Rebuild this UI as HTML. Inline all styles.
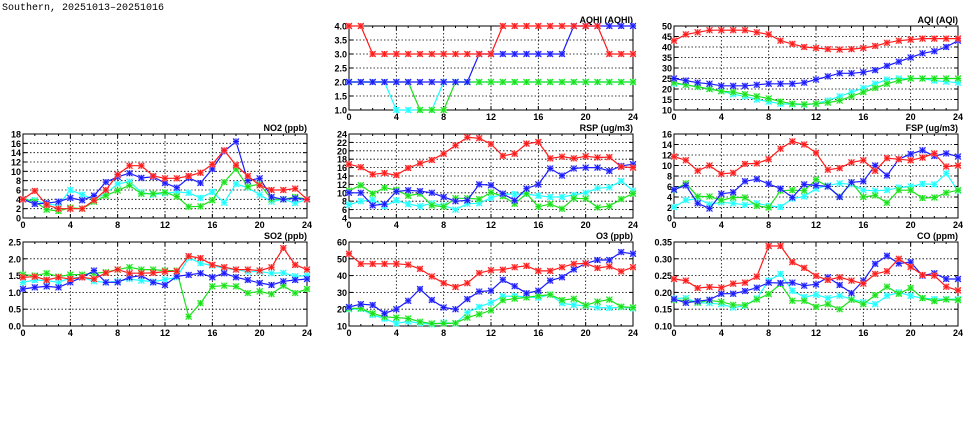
<!DOCTYPE html>
<html><head><meta charset="utf-8"><style>
html,body{margin:0;padding:0;background:#fff;width:975px;height:447px;overflow:hidden}
svg{display:block}
text{font-family:"Liberation Sans",sans-serif;font-weight:bold;font-size:9px;fill:#000}
</style></head><body>
<svg id="s" width="975" height="447" xmlns="http://www.w3.org/2000/svg">
<text x="2" y="10" style="font-family:'Liberation Mono',monospace;font-size:10px;font-weight:normal">Southern, 20251013–20251016</text>
</svg>
<script>
const S=document.getElementById('s');
const C={r:'#ff1a1a',b:'#1a1aff',g:'#1ae01a',c:'#1affff'};
const L={r:'#ff9999',b:'#9999ff',g:'#99ff99',c:'#aaffff'};
const P=[
{t:'AQHI (AQHI)',x:349,y:26,lo:1,hi:4,st:0.5,f:1,
 c:[2,2,2,2,1,1,1,1,2,2,2,2,2,2,2,2,2,2,2,2,2,2,2,2,2],
 g:[2,2,2,2,2,2,1,1,1,2,2,2,2,2,2,2,2,2,2,2,2,2,2,2,2],
 b:[2,2,2,2,2,2,2,2,2,2,2,3,3,3,3,3,3,3,3,4,4,4,4,4,4],
 r:[4,4,3,3,3,3,3,3,3,3,3,3,3,4,4,4,4,4,4,4,4,4,3,3,3]},
{t:'AQI (AQI)',x:674,y:26,lo:10,hi:50,st:5,f:0,
 r:[43,46,47,48,48,48,48,47,46,43,41.5,40,39.5,39,38.8,39,39.5,40.5,42,43,43.5,44,44,44,44],
 b:[25,24,23,22.5,21.5,21.5,21.5,22,22.5,22.5,22.5,23,24.5,26,27.5,27.5,28,29,31,33,35,37,38,40,43],
 g:[23,22,21,20,19,18.5,17.5,16.5,15.5,14,13,12.7,13,13.5,14.5,16.5,18.5,20.5,22.5,24,25,25,25,25,25],
 c:[22.5,22,21,20,19,17.5,16.5,15,14,13,12.7,12.5,13,14.5,16.5,18.5,20.5,22.5,24.5,25,25,25,24,23.5,23]},
{t:'NO2 (ppb)',x:23,y:134,lo:0,hi:18,st:2,f:0,
 r:[4,5.8,2.8,2,2,2,3.8,6,9.3,11.2,11.2,9,8.5,8.5,9,9.7,11.5,14.5,11.3,9,7,6,6,6.3,4],
 b:[4,3,3.2,3.5,4.3,3.8,4.8,7.7,8.8,9.6,8.6,8.8,7.5,6.5,8.6,7.5,10.5,14.3,16.4,8,8.5,4.5,4,4.2,4],
 g:[4,3.5,1.8,1.5,2.2,2,3.5,4.8,5.9,7,5.2,5.2,5.5,4.6,2.4,2.5,3.8,7.7,10.5,6.7,7.3,4,4,4.5,4],
 c:[4,3.8,3,2.7,6,5,4,5.3,7.3,7.8,5.5,5,5.3,5.6,5.4,4.3,5.6,3.3,7.3,6.5,5,3.5,4,3.2,4]},
{t:'RSP (ug/m3)',x:349,y:134,lo:4,hi:24,st:2,f:0,
 r:[16.8,16.1,14.4,14.7,14.2,15.9,17,17.8,19.3,21.3,23.2,23,21.6,18.8,19.3,21.7,22.1,18.2,18.6,18.2,18.7,18.4,18.5,16.2,16],
 b:[10,10,7,7.3,10.3,10.6,10.4,10,9,8,8.2,12,11.8,9.8,8.2,11,12,15.8,14.1,15.8,16,16,15.2,16.4,16.8],
 g:[10.5,11.8,9.8,11.2,10.7,9.3,9.8,7,6.7,8.7,8.7,8.5,10.1,9.2,7.4,9.8,6.7,7.3,6.2,8.7,8.6,6.5,6.8,8.5,9.8],
 c:[7.2,8,8.3,6.8,8.2,7.3,6.8,7.5,7,6,7.4,7.5,8.8,9.7,9.7,9.7,9.3,9,9,9.5,10,11.1,11.3,12.8,10.5]},
{t:'FSP (ug/m3)',x:674,y:134,lo:0,hi:16,st:2,f:0,
 r:[11.7,11,9,10,8.4,8.6,10.3,10.4,11.2,13.2,14.6,14,12.4,9.2,9.5,10.6,11,9,11.4,11.2,11,11.5,12.3,9.8,10],
 b:[5.4,6.2,2.8,1.8,4.6,4.9,7,7.4,6.5,5.6,3.9,6.4,6.2,6,4,6.8,7,10,8.1,11.2,12.2,12.9,11.8,12.3,11.7],
 g:[5.3,6.6,4.1,4.1,3.4,3.9,3.9,2.3,2,5.2,5.3,5.2,7.3,6,4.1,6.8,4,4.3,2.9,5.3,5.3,3.8,3.9,4.8,5.3],
 c:[2.1,3.4,3.7,2.6,3,2.8,2.5,2.8,2.3,2.1,3.7,4.1,5.6,6.2,6.6,6.4,5.3,5.2,5.3,5.8,6,6.5,6.4,8.5,5.2]},
{t:'SO2 (ppb)',x:23,y:242,lo:0,hi:2.5,st:0.5,f:1,
 r:[1.45,1.47,1.37,1.45,1.4,1.45,1.4,1.58,1.68,1.57,1.57,1.58,1.62,1.63,2.08,2.02,1.82,1.75,1.68,1.68,1.65,1.75,2.32,1.82,1.68],
 b:[1.1,1.15,1.18,1.15,1.3,1.45,1.65,1.3,1.3,1.45,1.5,1.3,1.22,1.48,1.52,1.57,1.45,1.57,1.45,1.37,1.28,1.22,1.33,1.37,1.4],
 g:[1.53,1.5,1.57,1.47,1.53,1.53,1.57,1.6,1.68,1.75,1.68,1.68,1.65,1.65,0.28,0.68,1.18,1.2,1.18,0.98,1.03,0.95,1.2,0.98,1.1],
 c:[1.3,1.37,1.35,1.3,1.43,1.45,1.33,1.3,1.33,1.4,1.35,1.32,1.38,1.45,2.03,1.87,1.8,1.72,1.68,1.62,1.62,1.57,1.58,1.48,1.5]},
{t:'O3 (ppb)',x:349,y:242,lo:10,hi:60,st:10,f:0,
 r:[53,47,47,47,47,46.5,44,39.5,35.5,33.2,35.5,41.5,43.2,43.5,45,45.8,42.8,42.8,45,47,47.2,44.5,45.5,42.5,45],
 b:[21.3,23,22.5,17.5,20,25,32,25.5,21,20,26,30.5,31,37.5,33.7,29.5,31,37,39,43.7,47.2,49.3,49.3,54,53],
 g:[20.5,20.5,17.5,15.5,15,14.5,12.5,11.5,11.5,11.7,15,17,19.3,25.3,26.3,27,28,28.7,25.4,26.2,22.3,24.5,25.7,21.5,21],
 c:[20,20.2,16.6,14.4,11.6,12.7,11.7,11,12,11.5,18,21.4,23.9,27.7,27.8,27.3,26.9,28.7,23.6,22.5,22,21,20.7,21.2,20.5]},
{t:'CO (ppm)',x:674,y:242,lo:0.1,hi:0.35,st:0.05,f:2,
 r:[.24,.235,.213,.216,.214,.226,.229,.247,.338,.338,.29,.273,.249,.237,.245,.235,.226,.255,.263,.30,.276,.252,.25,.217,.206],
 b:[.18,.169,.174,.178,.196,.196,.204,.214,.229,.228,.229,.22,.224,.245,.222,.198,.235,.285,.309,.286,.29,.25,.257,.24,.24],
 g:[.177,.176,.17,.176,.172,.163,.162,.179,.195,.225,.175,.175,.157,.165,.15,.178,.165,.192,.217,.196,.213,.183,.174,.179,.177],
 c:[.182,.183,.169,.168,.165,.155,.16,.182,.235,.255,.205,.186,.193,.183,.19,.18,.171,.165,.19,.2,.19,.183,.18,.18,.18]}
];
const W=284,H=84;let h='';
for(const p of P){
 const X=i=>p.x+i*W/24, Y=v=>p.y+H-(v-p.lo)/(p.hi-p.lo)*H;
 const n=Math.round((p.hi-p.lo)/p.st);
 for(let k=0;k<=n;k++){const v=p.lo+k*p.st,y=Y(v);
  if(k>0&&k<n)h+=`<line x1="${p.x}" x2="${p.x+W}" y1="${y}" y2="${y}" stroke="#000" stroke-width="0.8" stroke-dasharray="1.5,2"/>`;
  h+=`<line x1="${p.x}" x2="${p.x+4}" y1="${y}" y2="${y}" stroke="#000"/><line x1="${p.x+W-4}" x2="${p.x+W}" y1="${y}" y2="${y}" stroke="#000"/>`;
  h+=`<text x="${p.x-2}" y="${y+3.5}" text-anchor="end">${v.toFixed(p.f)}</text>`;}
 for(let i=0;i<=24;i++){const x=X(i);
  if(i%4==0){ if(i>0&&i<24)h+=`<line x1="${x}" x2="${x}" y1="${p.y}" y2="${p.y+H}" stroke="#000" stroke-width="0.8" stroke-dasharray="1.5,2"/>`;
   h+=`<text x="${x}" y="${p.y+H+10}" text-anchor="middle">${i}</text>`;}
  const tl=i%4==0?4:2;
  h+=`<line x1="${x}" x2="${x}" y1="${p.y+H}" y2="${p.y+H-tl}" stroke="#000"/><line x1="${x}" x2="${x}" y1="${p.y}" y2="${p.y+tl}" stroke="#000"/>`;}
 h+=`<rect x="${p.x}" y="${p.y}" width="${W}" height="${H}" fill="none" stroke="#000" stroke-width="1"/>`;
 h+=`<text x="${p.x+W}" y="${p.y-3}" text-anchor="end">${p.t}</text>`;
 for(const s of ['c','g','b','r']){
  const d=p[s];const pts=d.map((v,i)=>X(i).toFixed(1)+','+Y(v).toFixed(1)).join(' ');
  h+=`<polyline points="${pts}" fill="none" stroke="${C[s]}" stroke-width="1.2"/>`;
  d.forEach((v,i)=>{const x=X(i),y=Y(v),a=3;
   h+=`<rect x="${x-3}" y="${y-3}" width="6" height="6" fill="${L[s]}" opacity="0.7"/>`;
   h+=`<path d="M${x-a} ${y-a}L${x+a} ${y+a}M${x-a} ${y+a}L${x+a} ${y-a}M${x} ${y-a}L${x} ${y+a}M${x-a} ${y}L${x+a} ${y}" stroke="${C[s]}" stroke-width="1"/>`;});
 }
}
S.insertAdjacentHTML('beforeend',h);
</script>
</body></html>
